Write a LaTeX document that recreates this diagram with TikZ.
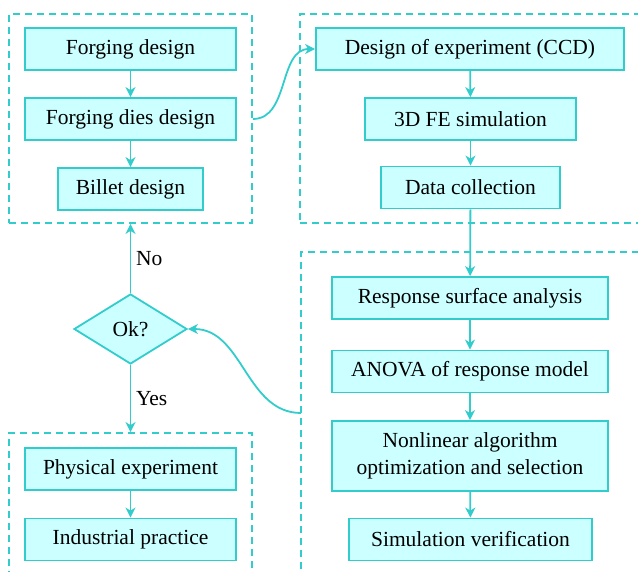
\documentclass[tikz,border=0pt]{standalone}
\usepackage{fontspec}
\setmainfont{Liberation Serif}
\usetikzlibrary{shapes.geometric,arrows.meta}
\definecolor{boxline}{RGB}{51,204,204}
\definecolor{boxfill}{RGB}{204,255,255}
\begin{document}
\begin{tikzpicture}[x=0.5pt,y=-0.5pt,
    font=\fontsize{10.75}{13.5}\selectfont,
    line width=0.9pt,
    stage/.style={draw=boxline,fill=boxfill,rectangle,inner sep=0pt,
      minimum height=21pt,align=center},
    group/.style={draw=boxline,dash pattern=on 3.5pt off 2.5pt,rectangle,
      inner sep=0pt},
    check/.style={draw=boxline,fill=boxfill,diamond,inner sep=0pt,
      minimum width=56.5pt,minimum height=35pt},
    flow/.style={draw=boxline,-{Stealth[length=5pt,width=5pt,inset=1.5pt]}}]
    \useasboundingbox (0,0) rectangle (638,572);
    \clip (0,0) rectangle (638,572);

    \node[group,minimum width=121.5pt,minimum height=104.5pt] (design) at (130.5,118.5) {};
    \node[group,minimum width=180pt,minimum height=104.5pt] (doe) at (480,118.5) {};
    \node[group,minimum width=121.5pt,minimum height=90pt] (apply) at (130.5,523) {};
    \node[group,minimum width=180pt,minimum height=175pt] (model) at (481,427) {};

    \node[stage,minimum width=105.5pt] (forging) at (130.5,49) {Forging design};
    \node[stage,minimum width=105.5pt] (dies) at (130.5,119) {Forging dies design};
    \node[stage,minimum width=72.5pt] (billet) at (130.5,189) {Billet design};

    \node[stage,minimum width=154pt] (ccd) at (470,49) {Design of experiment (CCD)};
    \node[stage,minimum width=105.5pt] (fesim) at (470.5,119) {3D FE simulation};
    \node[stage,minimum width=89.5pt] (data) at (470.5,187.5) {Data collection};

    \node[stage,minimum width=138pt] (rsa) at (470,298) {Response surface analysis};
    \node[stage,minimum width=138pt] (anova) at (470,371.5) {ANOVA of response model};
    \node[stage,minimum width=138pt,minimum height=35pt] (optim) at (470,456)
      {Nonlinear algorithm\\optimization and selection};
    \node[stage,minimum width=121.5pt] (verify) at (470.5,539.5) {Simulation verification};

    \node[check] (ok) at (130.5,329) {Ok?};

    \node[stage,minimum width=105.5pt] (physical) at (130.5,469) {Physical experiment};
    \node[stage,minimum width=105.5pt] (industry) at (130.5,539.5) {Industrial practice};

    \coordinate (back) at (301,413);

    \draw[flow] (forging) -- (dies);
    \draw[flow] (dies) -- (billet);
    \draw[flow] (ccd) -- (fesim);
    \draw[flow] (fesim) -- (data);
    \draw[flow] (data) -- (rsa);
    \draw[flow] (rsa) -- (anova);
    \draw[flow] (anova) -- (optim);
    \draw[flow] (optim) -- (verify);
    \draw[flow] (physical) -- (industry);
    \draw[flow] (dies -| design.east) to[out=0,in=180] (ccd.west);
    \draw[flow] (back) to[out=180,in=0] (ok.east);
    \draw[flow] (ok.north) -- node[right=-1pt] (no) {No} (design.south);
    \draw[flow] (ok.south) -- node[right=-1pt] (yes) {Yes} (apply.north);
\end{tikzpicture}
\end{document}
